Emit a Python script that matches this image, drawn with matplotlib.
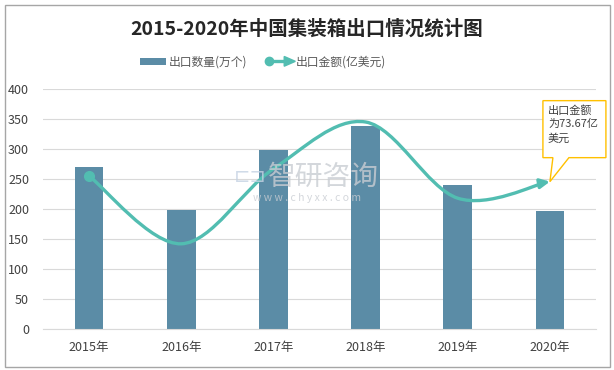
import matplotlib
matplotlib.use("Agg")
import matplotlib.pyplot as plt
from matplotlib.patches import Patch, Rectangle, Polygon, FancyArrowPatch
from matplotlib.lines import Line2D
from matplotlib.path import Path
from matplotlib.legend_handler import HandlerBase
from matplotlib.transforms import IdentityTransform
import numpy as np

plt.rcParams['font.family'] = ['Noto Sans CJK SC', 'DejaVu Sans']

# ---- data ----
years = ["2015年", "2016年", "2017年", "2018年", "2019年", "2020年"]
quantity = [270, 199, 299, 338, 240, 197]          # 出口数量(万个)
amount = [76.5, 42.6, 80.1, 103.5, 65.4, 73.67]    # 出口金额(亿美元)
y_ticks = [0, 50, 100, 150, 200, 250, 300, 350, 400]
title = "2015-2020年中国集装箱出口情况统计图"
bar_label = "出口数量(万个)"
line_label = "出口金额(亿美元)"
note_text = "出口金额\n为73.67亿\n美元"

BAR_C = "#5b8ca6"
LINE_C = "#52bdb1"
TXT_C = "#404040"
GRID_C = "#d9d9d9"

W, H = 614, 370
fig = plt.figure(figsize=(W / 100, H / 100), dpi=100)

# border
fig.patches.append(Rectangle((5 / W, 3 / H), 605 / W, 362 / H, transform=fig.transFigure,
                             fill=False, edgecolor="#a6a6a6", lw=1.0))

ax = fig.add_axes([43 / W, 41 / H, 553 / W, 240 / H])
x = np.arange(len(years))
ax.bar(x, quantity, width=0.31, color=BAR_C, zorder=2)
ax.set_xlim(-0.5, len(years) - 0.5)
ax.set_ylim(0, 400)
ax.set_yticks(y_ticks)
ax.set_xticks(x)
ax.set_xticklabels(years)
ax.grid(axis="y", color=GRID_C, lw=0.8, zorder=0)
ax.set_axisbelow(True)
for s in ["left", "right", "top"]:
    ax.spines[s].set_visible(False)
ax.spines["bottom"].set_color(GRID_C)
ax.tick_params(axis="both", length=0, labelsize=9, colors=TXT_C)
ax.tick_params(axis="y", pad=10)
ax.tick_params(axis="x", pad=9)

# watermark
fig.text(323 / W, 1 - 177 / H, "智研咨询", fontsize=20, color="#c9cdd3", alpha=0.8,
         ha="center", va="center", zorder=3)
fig.text(307 / W, 1 - 198 / H, "w w w . c h y x x . c o m", fontsize=7.5, color="#c9cdd3",
         alpha=0.8, ha="center", va="center", zorder=3)
fig.text(250 / W, 1 - 177 / H, "⊏⊐", fontsize=14, color="#c5d2e3", alpha=0.8,
         ha="center", va="center", zorder=3, family="DejaVu Sans")

# secondary hidden axis for amount line
ax2 = ax.twinx()
ax2.set_ylim(0, 120)
ax2.set_xlim(-0.5, len(years) - 0.5)
ax2.axis("off")

# smooth curve (Catmull-Rom -> cubic Bezier)
pts = np.column_stack([x, amount]).astype(float)
n = len(pts)
verts = [pts[0]]
codes = [Path.MOVETO]
for i in range(n - 1):
    p0 = pts[i - 1] if i > 0 else pts[i]
    p1 = pts[i]
    p2 = pts[i + 1]
    p3 = pts[i + 2] if i + 2 < n else pts[i + 1]
    c1 = p1 + (p2 - p0) / 6.0
    c2 = p2 - (p3 - p1) / 6.0
    verts += [c1, c2, p2]
    codes += [Path.CURVE4] * 3
path = Path(np.array(verts), codes)
arr = FancyArrowPatch(path=path, arrowstyle="-|>", mutation_scale=14, lw=2.4,
                      color=LINE_C, transform=ax2.transData, zorder=4)
ax2.add_patch(arr)
ax2.plot([x[0]], [amount[0]], "o", color=LINE_C, ms=7, zorder=5)


# legend
class ArrowLineHandler(HandlerBase):
    def create_artists(self, legend, orig_handle, xdescent, ydescent, width, height, fontsize, trans):
        y = height / 2 - ydescent
        ln = Line2D([-xdescent + 2, width - xdescent - 4], [y, y], color=LINE_C, lw=2.4, transform=trans)
        dot = Line2D([-xdescent + 2], [y], marker="o", ms=6, color=LINE_C, transform=trans)
        head = Polygon([[width - xdescent - 6, y + 3.5], [width - xdescent + 2, y],
                        [width - xdescent - 6, y - 3.5]], closed=True, color=LINE_C, transform=trans)
        return [ln, dot, head]


h_bar = Patch(facecolor=BAR_C)
h_line = Line2D([], [], color=LINE_C)
fig.legend([h_bar, h_line], [bar_label, line_label],
           handler_map={Line2D: ArrowLineHandler()},
           loc="center", bbox_to_anchor=(263 / W, 1 - 62 / H), ncol=2, frameon=False,
           fontsize=8.5, handlelength=2.2, handleheight=0.6, columnspacing=1.6, handletextpad=0.3,
           labelcolor="#595959")

fig.text(0.5, 1 - 29 / H, title, fontsize=14, fontweight="bold", color="#262626",
         ha="center", va="center")

# callout
fig.canvas.draw()
axd, ayd = ax2.transData.transform((x[-1], amount[-1]))
left, right = axd - 7, axd + 56
top, bottom = ayd + 81, ayd + 24
poly = [[left, top], [right, top], [right, bottom], [axd + 19, bottom], [axd, ayd],
        [axd + 3, bottom], [left, bottom]]
fig.patches.append(Polygon(poly, closed=True, transform=IdentityTransform(),
                           facecolor="white", edgecolor="#ffc000", lw=1.0, zorder=6))
t = fig.text(left + 5, top - 4, note_text, transform=IdentityTransform(), fontsize=8,
             color=TXT_C, ha="left", va="top", linespacing=1.45, zorder=7)

fig.savefig("out.png", dpi=100)
